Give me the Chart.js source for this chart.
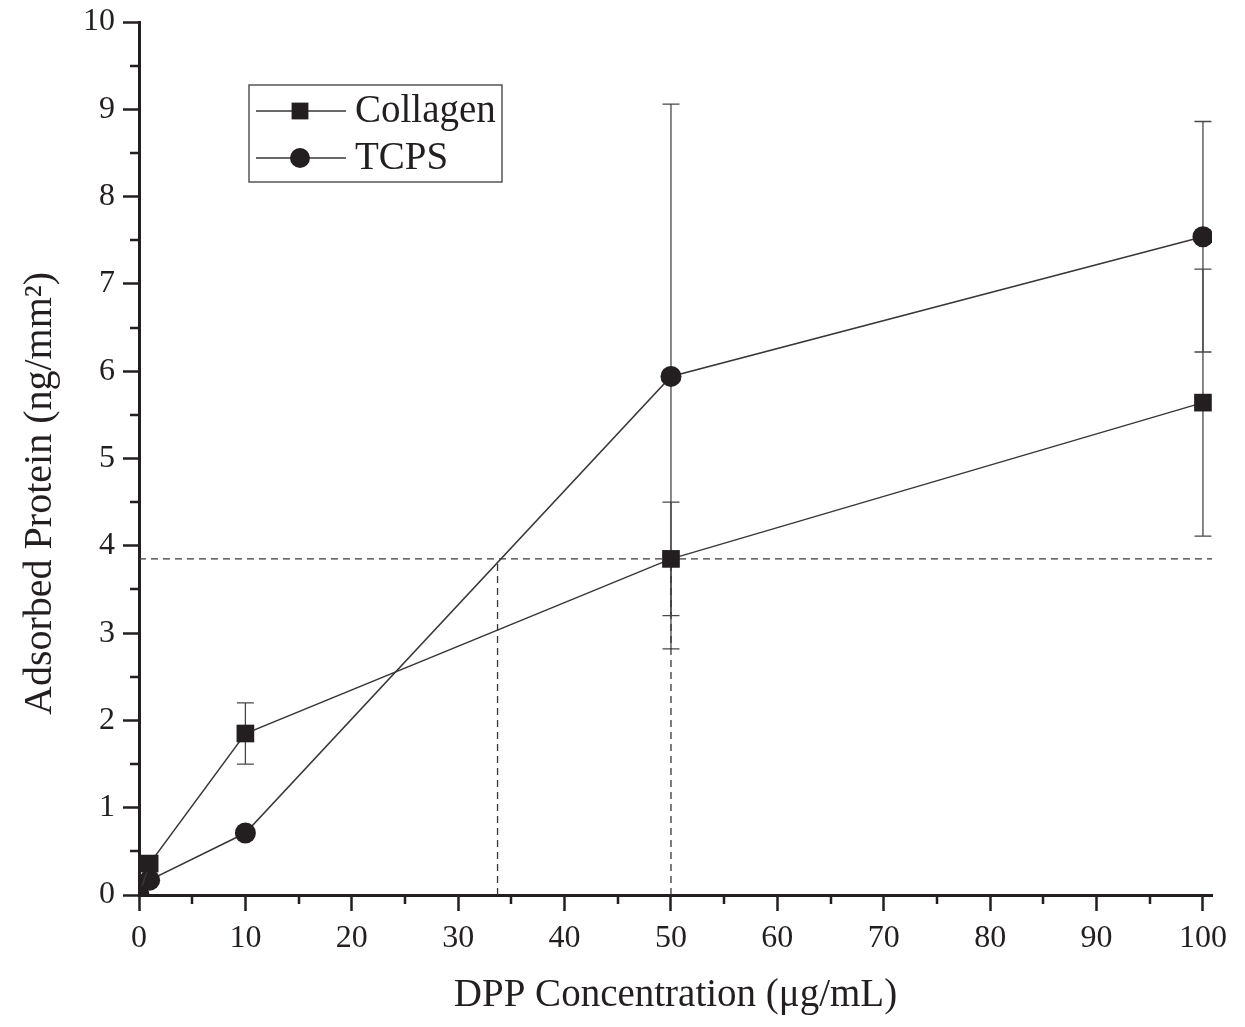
<!DOCTYPE html>
<html>
<head>
<meta charset="utf-8">
<title>Adsorbed Protein vs DPP Concentration</title>
<script src="https://cdn.jsdelivr.net/npm/chart.js@4.4.1/dist/chart.umd.min.js"></script>
<style>
  html, body { margin: 0; padding: 0; background: #fff; }
  #wrap { width: 1245px; height: 1027px; position: relative; }
</style>
</head>
<body>
<div id="wrap"><canvas id="proteinChart" width="1245" height="1027"></canvas></div>
<script>
// data
const concentrations = [0, 1, 10, 50, 100];
const collagenValues = [0, 0.36, 1.85, 3.85, 5.64];
const collagenErrors = [0, 0, 0.35, 0.65, 1.53];
const tcpsValues = [0, 0.17, 0.71, 5.94, 7.54];
const tcpsErrors = [0, 0, 0, 3.12, 1.32];

// dashed guide lines
const guideLevel = 3.85;
const guideCrossings = [33.7, 50];

// axes
const xMin = 0, xMax = 100.85;
const yMin = 0, yMax = 10;
const xMajorTicks = [0, 10, 20, 30, 40, 50, 60, 70, 80, 90, 100];
const xMinorTicks = [5, 15, 25, 35, 45, 55, 65, 75, 85, 95];
const yMajorTicks = [0, 1, 2, 3, 4, 5, 6, 7, 8, 9, 10];
const yMinorTicks = [0.5, 1.5, 2.5, 3.5, 4.5, 5.5, 6.5, 7.5, 8.5, 9.5];

const xTitle = 'DPP Concentration (μg/mL)';
const yTitle = 'Adsorbed Protein (ng/mm²)';

const ink = '#231f20';
const serif = "'Liberation Serif', 'Times New Roman', serif";

function toPoints(xs, ys) {
  return xs.map((x, i) => ({ x: x, y: ys[i] }));
}

const seriesDefs = [
  { label: 'Collagen', values: collagenValues, errors: collagenErrors, style: 'rect', radius: 12.5 },
  { label: 'TCPS', values: tcpsValues, errors: tcpsErrors, style: 'circle', radius: 10.5 }
];

const datasets = seriesDefs.map(s => ({
  label: s.label,
  data: toPoints(concentrations, s.values),
  errors: s.errors,
  isSeries: true,
  borderColor: '#3a3637',
  borderWidth: 1.5,
  backgroundColor: ink,
  pointStyle: s.style,
  pointRadius: s.radius,
  pointBorderWidth: 0,
  pointBackgroundColor: ink,
  tension: 0,
  clip: 0,
  order: 1
}));

// horizontal guide
datasets.push({
  label: 'guide-h',
  data: [{ x: xMin, y: guideLevel }, { x: xMax, y: guideLevel }],
  borderColor: '#3a3637',
  borderWidth: 1.3,
  borderDash: [7, 5],
  pointRadius: 0,
  order: 2
});
// vertical guides
guideCrossings.forEach(cx => {
  datasets.push({
    label: 'guide-v',
    data: [{ x: cx, y: yMin }, { x: cx, y: guideLevel }],
    borderColor: '#3a3637',
    borderWidth: 1.3,
    borderDash: [7, 5],
    pointRadius: 0,
    order: 2
  });
});

// error bars under the markers
const errorBarPlugin = {
  id: 'errorBars',
  beforeDatasetsDraw(chart) {
    const ctx = chart.ctx;
    const xs = chart.scales.x, ys = chart.scales.y;
    ctx.save();
    ctx.strokeStyle = '#4a4647';
    ctx.lineWidth = 1.3;
    chart.data.datasets.forEach(ds => {
      if (!ds.isSeries) return;
      ds.data.forEach((p, i) => {
        const e = ds.errors[i];
        if (!e) return;
        const px = xs.getPixelForValue(p.x);
        const top = ys.getPixelForValue(p.y + e);
        const bot = ys.getPixelForValue(p.y - e);
        ctx.beginPath();
        ctx.moveTo(px, top); ctx.lineTo(px, bot);
        ctx.moveTo(px - 8.5, top); ctx.lineTo(px + 8.5, top);
        ctx.moveTo(px - 8.5, bot); ctx.lineTo(px + 8.5, bot);
        ctx.stroke();
      });
    });
    ctx.restore();
  }
};

// minor ticks + y title (placed a bit below centre, as in the original)
const axisExtrasPlugin = {
  id: 'axisExtras',
  afterDraw(chart) {
    const ctx = chart.ctx;
    const area = chart.chartArea;
    const xs = chart.scales.x, ys = chart.scales.y;
    ctx.save();
    ctx.strokeStyle = ink;
    ctx.lineWidth = 2.5;
    ctx.beginPath();
    xMinorTicks.forEach(v => {
      const px = Math.round(xs.getPixelForValue(v));
      ctx.moveTo(px, area.bottom); ctx.lineTo(px, area.bottom + 9);
    });
    yMinorTicks.forEach(v => {
      const py = Math.round(ys.getPixelForValue(v));
      ctx.moveTo(area.left, py); ctx.lineTo(area.left - 9, py);
    });
    ctx.stroke();

    ctx.translate(40, ys.getPixelForValue(4.6));
    ctx.rotate(-Math.PI / 2);
    ctx.fillStyle = ink;
    ctx.font = '40px ' + serif;
    ctx.textAlign = 'center';
    ctx.textBaseline = 'middle';
    ctx.fillText(yTitle, 0, 0);
    ctx.restore();
  }
};

// boxed legend inside the plot
const boxLegendPlugin = {
  id: 'boxLegend',
  afterDraw(chart) {
    const ctx = chart.ctx;
    const left = 249, top = 85, w = 253, h = 97;
    ctx.save();
    ctx.strokeStyle = '#555';
    ctx.lineWidth = 1.5;
    ctx.strokeRect(left, top, w, h);
    const rows = chart.data.datasets.filter(d => d.isSeries);
    rows.forEach((ds, i) => {
      const cy = top + 26 + i * 47;
      ctx.strokeStyle = ds.borderColor;
      ctx.lineWidth = 1.5;
      ctx.beginPath();
      ctx.moveTo(256, cy); ctx.lineTo(346, cy);
      ctx.stroke();
      ctx.fillStyle = ink;
      Chart.helpers.drawPoint(ctx, {
        pointStyle: ds.pointStyle,
        radius: ds.pointRadius * 0.95,
        rotation: 0,
        borderWidth: 0
      }, 300, cy);
      ctx.fillStyle = ink;
      ctx.font = '39px ' + serif;
      ctx.textBaseline = 'middle';
      ctx.textAlign = 'left';
      ctx.fillText(ds.label, 355, cy + 1);
    });
    ctx.restore();
  }
};

new Chart(document.getElementById('proteinChart'), {
  type: 'line',
  data: { datasets: datasets },
  plugins: [errorBarPlugin, axisExtrasPlugin, boxLegendPlugin],
  options: {
    responsive: false,
    animation: false,
    devicePixelRatio: 1,
    layout: { padding: { top: 22, right: 33, left: 0, bottom: 0 } },
    plugins: {
      legend: { display: false },
      tooltip: { enabled: false }
    },
    scales: {
      x: {
        type: 'linear',
        min: xMin,
        max: xMax,
        afterBuildTicks: s => { s.ticks = xMajorTicks.map(v => ({ value: v })); },
        afterFit: s => { s.height = 132; s.paddingLeft = 0; s.paddingRight = 0; },
        grid: { drawOnChartArea: false, tickLength: 16, tickWidth: 2.5, tickColor: ink },
        border: { display: true, width: 3, color: ink },
        ticks: { color: ink, font: { family: serif, size: 32 }, padding: 8, maxRotation: 0 },
        title: {
          display: true,
          text: xTitle,
          color: ink,
          font: { family: serif, size: 39 },
          padding: { top: 10, bottom: 8 }
        }
      },
      y: {
        type: 'linear',
        min: yMin,
        max: yMax,
        afterBuildTicks: s => { s.ticks = yMajorTicks.map(v => ({ value: v })); },
        afterFit: s => { s.width = 139; s.paddingTop = 0; s.paddingBottom = 0; },
        grid: { drawOnChartArea: false, tickLength: 16, tickWidth: 2.5, tickColor: ink },
        border: { display: true, width: 3, color: ink },
        ticks: { color: ink, font: { family: serif, size: 32 }, padding: 8 },
        title: { display: false }
      }
    }
  }
});
</script>
</body>
</html>
